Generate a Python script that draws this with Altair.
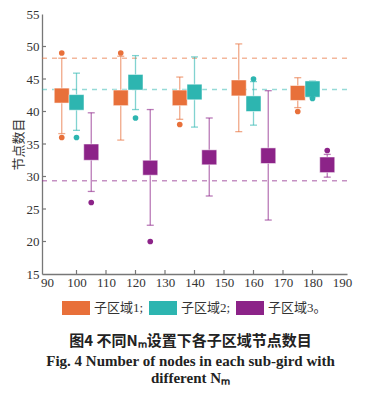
import altair as alt
import pandas as pd

# ---- data ----
groups = [100, 120, 140, 160, 180]          # N_M values
series = ["子区域1;", "子区域2;", "子区域3。"]
offsets = [-5, 0, 5]
colors = ["#E8703A", "#2DB5B0", "#8C2388"]

q1 = {
    "子区域1;": [41.3, 40.9, 40.9, 42.4, 41.7],
    "子区域2;": [40.2, 43.3, 41.8, 40.0, 42.2],
    "子区域3。": [32.5, 30.2, 31.8, 32.0, 30.6],
}
q3 = {
    "子区域1;": [43.6, 43.3, 43.3, 44.85, 44.0],
    "子区域2;": [42.6, 45.7, 44.2, 42.4, 44.7],
    "子区域3。": [35.0, 32.5, 34.1, 34.4, 33.0],
}
lo = {
    "子区域1;": [36.6, 35.6, 38.8, 36.9, 40.6],
    "子区域2;": [37.1, 40.3, 37.6, 37.9, 42.2],
    "子区域3。": [27.7, 22.5, 27.0, 23.3, 29.9],
}
hi = {
    "子区域1;": [48.2, 48.5, 45.3, 50.4, 45.2],
    "子区域2;": [45.9, 48.6, 48.4, 44.6, 44.7],
    "子区域3。": [39.8, 40.3, 39.0, 43.2, 33.4],
}
outlier_series = ["子区域1;", "子区域1;", "子区域1;", "子区域1;", "子区域1;",
                  "子区域2;", "子区域2;", "子区域2;", "子区域2;",
                  "子区域3。", "子区域3。", "子区域3。"]
outlier_group = [100, 100, 120, 140, 180, 100, 120, 160, 180, 100, 120, 180]
outlier_value = [49, 36, 49, 38, 40, 36, 39, 45, 42, 26, 20, 34]

ref_series = series
ref_value = [48.2, 43.4, 29.35]

x_ticks = list(range(90, 191, 10))
y_ticks = list(range(15, 56, 5))

# ---- tables ----
rows = []
for s, off in zip(series, offsets):
    for i, g in enumerate(groups):
        rows.append(dict(s=s, x=g + off, q1=q1[s][i], q3=q3[s][i],
                         lo=lo[s][i], hi=hi[s][i]))
box = pd.DataFrame(rows)
off_map = dict(zip(series, offsets))
out = pd.DataFrame(dict(s=outlier_series,
                        x=[g + off_map[s] for g, s in zip(outlier_group, outlier_series)],
                        v=outlier_value))
refs = pd.DataFrame(dict(s=ref_series, v=ref_value))
xt = pd.DataFrame(dict(t=x_ticks[1:-1]))
yt = pd.DataFrame(dict(t=y_ticks[1:-1]))

SERIF = "Liberation Serif, Noto Sans CJK SC"
legend = alt.Legend(title=None, orient="none", direction="horizontal",
                    legendX=20, legendY=280,
                    symbolType="M-1,-0.5L1,-0.5L1,0.5L-1,0.5Z",
                    symbolSize=784, symbolStrokeWidth=0,
                    symbolOpacity=1,
                    labelFont=SERIF, labelFontSize=13,
                    labelColor="#333", labelOffset=4,
                    columnPadding=5)
cscale = alt.Scale(domain=series, range=colors)
color = alt.Color("s:N", scale=cscale, legend=legend)

xscale = alt.Scale(domain=[90, 190], nice=False, zero=False)
yscale = alt.Scale(domain=[15, 55], nice=False, zero=False)
xax = alt.Axis(values=x_ticks, tickSize=0, domainColor="#777", labelOverlap=False,
               domainWidth=1.3, labelFont=SERIF, labelFontSize=13, labelColor="#333",
               labelPadding=2, grid=False, title=None)
yax = alt.Axis(values=y_ticks, tickSize=0, domainColor="#777", labelOverlap=False,
               domainWidth=1.3, labelFont=SERIF, labelFontSize=13, labelColor="#333",
               labelPadding=3, grid=False, title="节点数目",
               titleFont="Noto Sans CJK SC", titleFontSize=13, titleFontWeight="normal",
               titleColor="#333", titlePadding=1)

X = lambda f: alt.X(f, scale=xscale, axis=xax)
Y = lambda f: alt.Y(f, scale=yscale, axis=yax)

base = alt.Chart(box)
whisk = base.mark_rule(strokeWidth=1.3, opacity=0.6).encode(
    x=X("x:Q"), y=Y("lo:Q"), y2="hi:Q", color=color)
cap_lo = base.mark_tick(orient="horizontal", size=7, thickness=1.3, opacity=0.6).encode(
    x=X("x:Q"), y=Y("lo:Q"), color=color)
cap_hi = base.mark_tick(orient="horizontal", size=7, thickness=1.3, opacity=0.6).encode(
    x=X("x:Q"), y=Y("hi:Q"), color=color)
boxes = base.mark_bar(size=15, stroke="white", strokeOpacity=0.5, strokeWidth=1).encode(
    x=X("x:Q"), y=Y("q1:Q"), y2="q3:Q", color=color)
pts = alt.Chart(out).mark_circle(size=32, opacity=1).encode(
    x=X("x:Q"), y=Y("v:Q"), color=color)
ref = alt.Chart(refs).mark_rule(strokeDash=[5, 5], strokeWidth=1.5, opacity=0.5).encode(
    y=Y("v:Q"), color=color)

# inward-pointing tick marks
ytick_marks = alt.Chart(yt).mark_rule(color="#777", strokeWidth=1.2).encode(
    y=Y("t:Q"), x=alt.value(0), x2=alt.value(4))
xtick_marks = alt.Chart(xt).mark_rule(color="#777", strokeWidth=1.2).encode(
    x=X("t:Q"), y=alt.value(260), y2=alt.value(256))

chart = alt.layer(ref, whisk, cap_lo, cap_hi, boxes, pts, ytick_marks, xtick_marks).properties(
    width=305, height=260,
    autosize=alt.AutoSizeParams(type="none"),
    padding={"left": 34, "top": 6, "right": 16, "bottom": 118},
    title=alt.TitleParams(
        text="图4   不同Nₘ设置下各子区域节点数目",
        subtitle=["Fig. 4   Number of nodes in each sub-gird with", "different Nₘ"],
        orient="bottom", anchor="middle", dx=-4, offset=19,
        font="Noto Sans CJK SC", fontSize=15, fontWeight="bold", color="#222",
        subtitleFont="Liberation Serif", subtitleFontSize=15,
        subtitleFontWeight="bold", subtitleColor="#222", subtitlePadding=5,
        subtitleLineHeight=17),
).configure_view(stroke=None).configure_axis(labelOverlap=False)

chart.save("out.html", embed_options={"renderer": "svg", "actions": False})
